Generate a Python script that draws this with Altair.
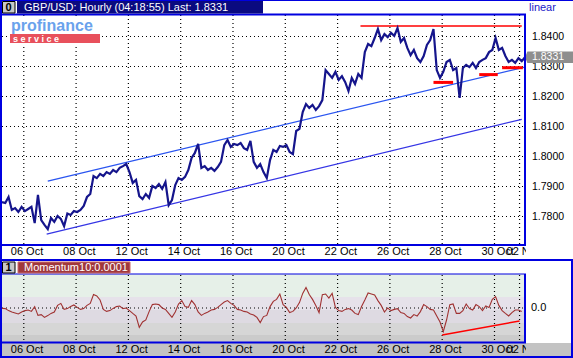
import altair as alt
import pandas as pd

# ---------------- data ----------------
hours = list(range(0, 481, 3))
price = [
    1.7848, 1.7845, 1.7865, 1.7822, 1.7828, 1.7815, 1.7832, 1.7818, 1.7825, 1.7832,
    1.7778, 1.7872, 1.7788, 1.7772, 1.7758, 1.7795, 1.7782, 1.7802, 1.7792, 1.7768,
    1.7810, 1.7805, 1.7818, 1.7815, 1.7822, 1.7835, 1.7865, 1.7875, 1.7935, 1.7928,
    1.7942, 1.7935, 1.7948, 1.7942, 1.7955, 1.7948, 1.7962, 1.7968, 1.7975, 1.7948,
    1.7912, 1.7922, 1.7868, 1.7858, 1.7875, 1.7862, 1.7902, 1.7895, 1.7908, 1.7892,
    1.7915, 1.7838, 1.7855, 1.7905, 1.7928, 1.7922, 1.7932, 1.7955, 1.7995, 1.8012,
    1.8042, 1.7962, 1.7968, 1.7955, 1.7962, 1.7952, 1.7965, 1.7982, 1.8038, 1.8055,
    1.8032, 1.8042, 1.8038, 1.8045, 1.8028, 1.8022, 1.8052, 1.7982, 1.7962, 1.7975,
    1.7948, 1.7928, 1.7988, 1.8022, 1.8015, 1.8035, 1.8032, 1.8038, 1.8015, 1.8008,
    1.8085, 1.8092, 1.8148, 1.8175, 1.8162, 1.8172, 1.8155, 1.8168, 1.8188, 1.8288,
    1.8275, 1.8262, 1.8282, 1.8255, 1.8268, 1.8248, 1.8218, 1.8262, 1.8242, 1.8275,
    1.8262, 1.8348, 1.8375, 1.8368, 1.8395, 1.8425, 1.8388, 1.8408, 1.8398, 1.8412,
    1.8402, 1.8428, 1.8382, 1.8395, 1.8362, 1.8338, 1.8355, 1.8328, 1.8315, 1.8335,
    1.8372, 1.8388, 1.8425, 1.8288, 1.8262, 1.8282, 1.8315, 1.8322, 1.8288, 1.8295,
    1.8195, 1.8295, 1.8305, 1.8298, 1.8312, 1.8295, 1.8315, 1.8322, 1.8328, 1.8348,
    1.8355, 1.8395, 1.8355, 1.8362, 1.8335, 1.8315, 1.8322, 1.8312, 1.8328, 1.8318,
    1.8331,
]
mom_hours = list(range(0, 478, 3))
momentum = [
    -0.0002, -0.0003, -0.0013, -0.0020, -0.0025, -0.0030, -0.0020, -0.0013, -0.0010, -0.0017,
    0.0007, -0.0037, -0.0033, -0.0047, -0.0038, -0.0027, -0.0020, 0.0013, 0.0023, -0.0007,
    -0.0003, 0.0007, 0.0015, 0.0003, -0.0007, -0.0003, 0.0013, 0.0023, 0.0067, 0.0060,
    0.0040, -0.0007, -0.0017, -0.0013, -0.0002, 0.0007, 0.0010, -0.0003, 0.0000, -0.0013,
    -0.0027, -0.0040, -0.0097, -0.0070, -0.0060, -0.0018, 0.0017, 0.0020, 0.0017, 0.0000,
    -0.0007, -0.0027, -0.0047, -0.0020, 0.0020, 0.0037, 0.0007, 0.0003, 0.0037, 0.0017,
    -0.0020, -0.0037, -0.0027, -0.0020, -0.0010, -0.0007, 0.0003, 0.0017, 0.0030, 0.0037,
    0.0023, 0.0013, -0.0007, -0.0010, -0.0017, -0.0020, -0.0030, -0.0035, -0.0047, -0.0073,
    -0.0043, -0.0037, 0.0007, 0.0033, 0.0043, 0.0070, 0.0017, 0.0003, -0.0023, -0.0017,
    0.0000, 0.0027, 0.0073, 0.0103, 0.0067, 0.0043, 0.0013, -0.0023, 0.0067, 0.0070,
    0.0050, 0.0073, 0.0003, -0.0013, -0.0017, -0.0007, -0.0003, -0.0010, -0.0027, -0.0033,
    0.0007, 0.0040, 0.0075, 0.0070, 0.0065, 0.0037, 0.0013, -0.0020, 0.0000, -0.0013,
    -0.0007, -0.0003, -0.0023, -0.0027, -0.0043, -0.0050, -0.0033, -0.0040, -0.0018, 0.0017,
    0.0007, -0.0007, -0.0010, -0.0040, -0.0070, -0.0118, -0.0060, 0.0017, 0.0020, -0.0027,
    -0.0027, -0.0013, 0.0020, -0.0003, -0.0010, 0.0017, 0.0007, -0.0013, 0.0010, 0.0003,
    0.0043, 0.0057, 0.0013, -0.0013, -0.0027, -0.0040, -0.0023, -0.0010, -0.0010, -0.0018,
]
last_price = 1.8331

price_ticks = [1.84, 1.83, 1.82, 1.81, 1.80, 1.79, 1.78]
price_tick_labels = ["1.8400", "1.8300", "1.8200", "1.8100", "1.8000", "1.7900", "1.7800"]
date_hours = [20, 68, 116, 164, 212, 260, 308, 356, 404, 452, 475]
date_labels = ["06 Oct", "08 Oct", "12 Oct", "14 Oct", "16 Oct", "20 Oct",
               "22 Oct", "26 Oct", "28 Oct", "30 Oct", "02 Nov"]

# trend lines drawn on the chart
upper_channel_h = [42, 480]
upper_channel_p = [1.7918, 1.8298]
lower_channel_h = [41, 477]
lower_channel_p = [1.7741, 1.8124]
resistance_h = [329, 477]
resistance_p = [1.8435, 1.8435]
support_h = [[396, 414], [438, 455], [459, 478]]
support_p = [1.8247, 1.8273, 1.8296]
mom_trend_h = [404, 475]
mom_trend_m = [-0.0135, -0.0065]

band_top = [0.017, 0.0055, -0.001, -0.0075, -0.0135]
band_bot = [0.0055, -0.001, -0.0075, -0.0135, -0.017]
band_col = ["#E6F0E8", "#E6E2EA", "#DEDAE2", "#D6D6D6", "#CBCBCB"]

# ---------------- tables ----------------
df_price = pd.DataFrame({"h": hours, "p": price})
df_mom = pd.DataFrame({"h": mom_hours, "m": momentum})
df_pt = pd.DataFrame({"p": price_ticks, "lab": price_tick_labels})
df_dt = pd.DataFrame({"h": date_hours, "lab": date_labels})
df_up = pd.DataFrame({"h": upper_channel_h, "p": upper_channel_p})
df_lo = pd.DataFrame({"h": lower_channel_h, "p": lower_channel_p})
df_res = pd.DataFrame({"h": resistance_h, "p": resistance_p})
df_sup = pd.DataFrame({
    "h": [hh for pair in support_h for hh in pair],
    "p": [pp for pp in support_p for _ in range(2)],
    "seg": [i for i in range(len(support_p)) for _ in range(2)],
})
df_mt = pd.DataFrame({"h": mom_trend_h, "m": mom_trend_m})
df_band = pd.DataFrame({"top": band_top, "bot": band_bot, "c": band_col})
df_last = pd.DataFrame({"p": [last_price], "lab": [f"{last_price:.4f}"]})
df_zero = pd.DataFrame({"m": [0.0], "lab": ["0.0"]})
one = pd.DataFrame({"k": [0]})

X = alt.Scale(domain=[0, 480], range=[2, 525])
YP = alt.Scale(domain=[1.7705, 1.847167], range=[245, 15])
YM = alt.Scale(domain=[-0.017, 0.017], range=[342, 274])
FONT = "Liberation Sans"
BLUE = "#0000E0"
xh = alt.X("h:Q", scale=X, axis=None)
yp = alt.Y("p:Q", scale=YP, axis=None)
ym = alt.Y("m:Q", scale=YM, axis=None)


def box(x, x2, y, y2, color, **kw):
    return alt.Chart(one).mark_rect(color=color, **kw).encode(
        x=alt.value(x), x2=alt.value(x2), y=alt.value(y), y2=alt.value(y2))


def label(x, y, text, color="black", size=11, **kw):
    return alt.Chart(one).mark_text(text=text, color=color, fontSize=size, font=FONT,
                                    align="left", baseline="middle", **kw).encode(
        x=alt.value(x), y=alt.value(y))


layers = []
# backgrounds
layers.append(box(0, 573, 0, 358, "white"))
layers.append(box(0, 573, 343, 358, "#C3C3C3"))
layers.append(alt.Chart(df_band).mark_rect().encode(
    x=alt.value(2), x2=alt.value(525),
    y=alt.Y("top:Q", scale=YM, axis=None), y2="bot:Q",
    color=alt.Color("c:N", scale=None)))

# grid
dot = dict(strokeDash=[1, 3], color="#000000", strokeWidth=1.2, opacity=1)
layers.append(alt.Chart(df_pt).mark_rule(**dot).encode(x=alt.value(2), x2=alt.value(525), y=yp))
layers.append(alt.Chart(df_dt).mark_rule(**dot).encode(x=xh, y=alt.value(15), y2=alt.value(245)))
layers.append(alt.Chart(df_dt).mark_rule(**dot).encode(x=xh, y=alt.value(275), y2=alt.value(342)))
layers.append(alt.Chart(df_zero).mark_rule(**dot).encode(x=alt.value(2), x2=alt.value(525), y=ym))

# logo (opaque, over the grid)
layers += [
    box(9, 102, 18, 45, "white"),
    label(11, 26, "profinance", color="#6AA2EC", size=16, fontWeight="bold"),
    box(10, 100, 34, 43, "#E8505C"),
    label(13, 38.5, "s  e  r  v  i  c  e", color="white", size=9, fontWeight="bold"),
]

# trend lines
layers.append(alt.Chart(df_up).mark_line(color="#2A55F0", strokeWidth=1.3).encode(x=xh, y=yp))
layers.append(alt.Chart(df_lo).mark_line(color="#3535E5", strokeWidth=1.3).encode(x=xh, y=yp))
layers.append(alt.Chart(df_res).mark_line(color="#FF0000", strokeWidth=1.5).encode(x=xh, y=yp))
layers.append(alt.Chart(df_sup).mark_line(color="#FF0000", strokeWidth=3).encode(
    x=xh, y=yp, detail="seg:N"))

# series
layers.append(alt.Chart(df_price).mark_line(color="#15158C", strokeWidth=2.2).encode(x=xh, y=yp))
layers.append(alt.Chart(df_mom).mark_line(color="#A03232", strokeWidth=1.1).encode(x=xh, y=ym))
layers.append(alt.Chart(df_mt).mark_line(color="#FF0000", strokeWidth=1.5).encode(x=xh, y=ym))

# axis labels
layers.append(alt.Chart(df_pt).mark_text(font=FONT, fontSize=10.5, align="left", baseline="middle",
                                         color="black").encode(x=alt.value(532), y=yp, text="lab:N"))
layers.append(alt.Chart(df_zero).mark_text(font=FONT, fontSize=11, align="left", baseline="middle",
                                           color="black").encode(x=alt.value(531), y=ym, text="lab:N"))
layers.append(alt.Chart(df_dt).mark_text(font=FONT, fontSize=11, align="left", baseline="middle",
                                         color="black", dx=-13).encode(x=xh, y=alt.value(252), text="lab:N"))
layers.append(alt.Chart(df_dt).mark_text(font=FONT, fontSize=11, align="left", baseline="middle",
                                         color="black", dx=-13).encode(x=xh, y=alt.value(350), text="lab:N"))
layers.append(box(526, 571, 246, 259, "white"))
layers.append(box(526, 571, 344, 356, "#C3C3C3"))

# last price marker
arrow = "M -1 0 L -0.9 -0.24 L 1 -0.24 L 1 0.24 L -0.9 0.24 Z"
layers.append(alt.Chart(df_last).mark_point(shape=arrow, filled=True, color="#8E8E8E",
                                            size=2304, opacity=1).encode(x=alt.value(549), y=yp))
layers.append(alt.Chart(df_last).mark_text(font=FONT, fontSize=10.5, align="left", baseline="middle",
                                           color="white").encode(x=alt.value(532), y=yp, text="lab:N"))

# frames
layers += [
    box(0, 2, 0, 358, BLUE),
    box(0, 573, 0, 1, BLUE),
    box(0, 526, 13.5, 15.5, BLUE),
    box(524, 526, 14, 246, BLUE),
    box(0, 526, 244, 246, BLUE),
    box(0, 573, 259, 261, BLUE),
    box(0, 526, 273.5, 274.5, BLUE),
    box(524, 526, 274, 343, BLUE),
    box(0, 526, 341.5, 343.5, BLUE),
    box(571, 573, 259, 358, BLUE),
    box(0, 573, 356, 358, BLUE),
]

# header
layers += [
    box(2.5, 15, 1.5, 13, "#C8C8C8", stroke="black", strokeWidth=1),
    label(5.5, 7.5, "0", size=11, fontWeight="bold"),
    box(17, 263, 1, 13.5, "#0A0A80"),
    label(24, 7.5, "GBP/USD: Hourly (04:18:55) Last: 1.8331", color="white"),
    label(529, 8, "linear", color="#2020C8", size=11),
    box(2.5, 15, 262, 273, "#C8C8C8", stroke="black", strokeWidth=1),
    label(5.5, 267.5, "1", size=11, fontWeight="bold"),
    box(18, 130, 262, 273, "#A0383C", stroke="#C86A6A", strokeWidth=1),
    label(24, 267.5, "Momentum10:0.0001", color="white"),
]

chart = alt.layer(*layers).resolve_scale(y="independent").properties(
    width=573, height=358, autosize=alt.AutoSizeParams(type="none"), padding=0,
    background="white",
).configure_view(stroke=None)

chart.save("out.html", embed_options={"renderer": "svg", "actions": False})
